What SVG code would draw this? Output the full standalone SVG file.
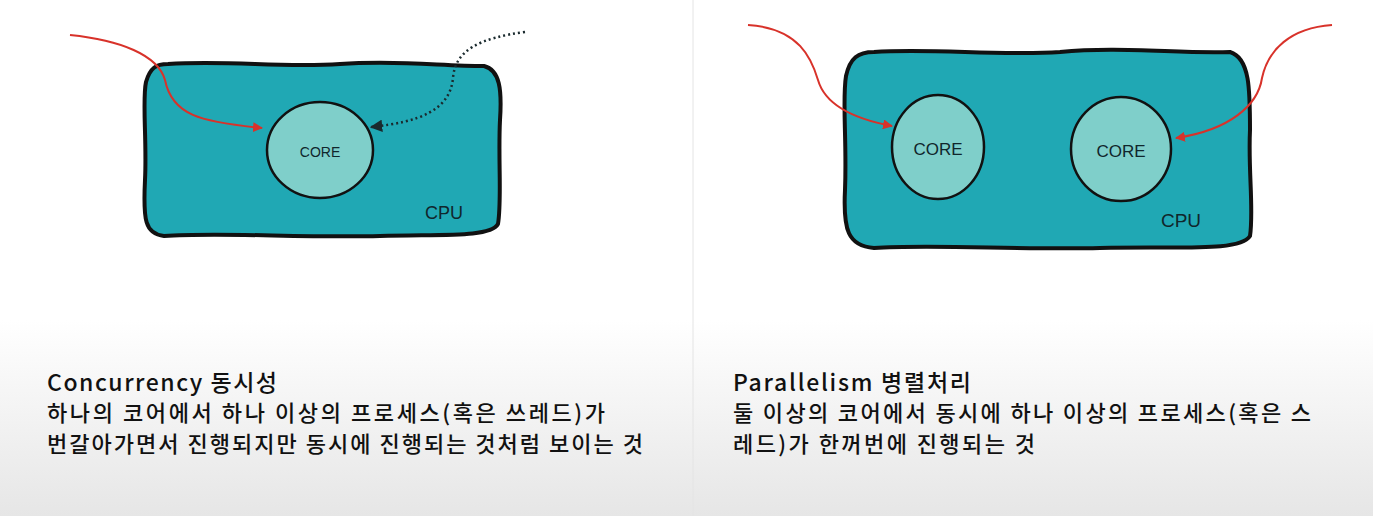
<svg xmlns="http://www.w3.org/2000/svg" width="1373" height="516" viewBox="0 0 1373 516">
<defs>
<linearGradient id="bg" x1="0" y1="0" x2="0" y2="1">
<stop offset="0" stop-color="#ffffff"/>
<stop offset="0.62" stop-color="#ffffff"/>
<stop offset="1" stop-color="#e6e6e6"/>
</linearGradient>
<marker id="ar" viewBox="0 0 10 10" refX="9" refY="5" markerWidth="5" markerHeight="5" orient="auto"><path d="M0,0 L10,5 L0,10 z" fill="#d8322a"/></marker>
<marker id="ak" viewBox="0 0 10 10" refX="9" refY="5" markerWidth="5" markerHeight="5" orient="auto"><path d="M0,0 L10,5 L0,10 z" fill="#1a2a2e"/></marker>
<style>
.cpu{fill:#20a8b4;stroke:#111;stroke-width:4;stroke-linejoin:round}
.core{fill:#7fcfca;stroke:#111;stroke-width:2.5}
.lbl{font-family:"Liberation Sans",Arial,sans-serif;fill:#10262c}
.red{fill:none;stroke:#d8322a;stroke-width:2}
.dot{fill:none;stroke:#1a2a2e;stroke-width:2.5;stroke-dasharray:2 3}
.t{font-family:"Noto Sans CJK KR","Noto Sans",sans-serif;fill:#111;font-weight:500}
</style>
</defs>
<rect width="1373" height="516" fill="url(#bg)"/>
<line x1="693" y1="0" x2="693" y2="516" stroke="#e4e4e4" stroke-width="1"/>

<g id="cpu-left">
<path class="cpu" d="M168,64 C230,60 280,68 340,64 C400,60 440,66 484,66 C500,70 502,90 500,120 C498,160 502,200 498,224 C490,238 440,234 380,236 C300,238 220,232 164,236 C145,234 143,220 145,180 C147,140 142,100 146,82 C150,68 156,64 168,64 Z"/>
<text class="lbl" x="444" y="219" font-size="18" text-anchor="middle">CPU</text>
</g>
<g id="core-left">
<ellipse class="core" cx="320" cy="150" rx="53" ry="48"/>
<text class="lbl" x="320" y="157" font-size="14" text-anchor="middle">CORE</text>
</g>

<g id="cpu-right">
<path class="cpu" d="M874,52 C930,48 1000,56 1060,52 C1120,46 1180,54 1230,52 C1250,58 1250,90 1250,130 C1248,170 1254,210 1250,236 C1240,252 1180,246 1100,248 C1020,250 930,244 874,248 C848,246 843,230 845,190 C847,140 842,100 846,76 C850,58 858,52 874,52 Z"/>
<text class="lbl" x="1181" y="227" font-size="19" text-anchor="middle">CPU</text>
</g>
<g id="core-right-1">
<ellipse class="core" cx="938" cy="147" rx="46" ry="52"/>
<text class="lbl" x="938" y="155" font-size="17" text-anchor="middle">CORE</text>
</g>
<g id="core-right-2">
<ellipse class="core" cx="1121" cy="149" rx="50" ry="52"/>
<text class="lbl" x="1121" y="157" font-size="17" text-anchor="middle">CORE</text>
</g>

<g id="connectors">
<path class="red" marker-end="url(#ar)" d="M70,35 C120,40 158,55 165,80 C172,115 200,122 262,128"/>
<path class="dot" marker-end="url(#ak)" d="M525,32 C480,38 455,50 453,78 C450,110 420,122 371,127"/>
<path class="red" marker-end="url(#ar)" d="M748,25 C800,28 812,60 818,80 C826,108 860,120 892,126"/>
<path class="red" marker-end="url(#ar)" d="M1332,25 C1290,28 1268,50 1262,78 C1258,105 1230,130 1176,138"/>
</g>

<g id="caption-left">
<text class="t" x="47" y="391" font-size="23" textLength="230" lengthAdjust="spacing">Concurrency 동시성</text>
<text class="t" x="47" y="421" font-size="22" textLength="558" lengthAdjust="spacing">하나의 코어에서 하나 이상의 프로세스(혹은 쓰레드)가</text>
<text class="t" x="47" y="452" font-size="22" textLength="596" lengthAdjust="spacing">번갈아가면서 진행되지만 동시에 진행되는 것처럼 보이는 것</text>
</g>
<g id="caption-right">
<text class="t" x="733" y="391" font-size="23" textLength="238" lengthAdjust="spacing">Parallelism 병렬처리</text>
<text class="t" x="733" y="421" font-size="22" textLength="578" lengthAdjust="spacing">둘 이상의 코어에서 동시에 하나 이상의 프로세스(혹은 스</text>
<text class="t" x="733" y="452" font-size="22" textLength="302" lengthAdjust="spacing">레드)가 한꺼번에 진행되는 것</text>
</g>
</svg>
